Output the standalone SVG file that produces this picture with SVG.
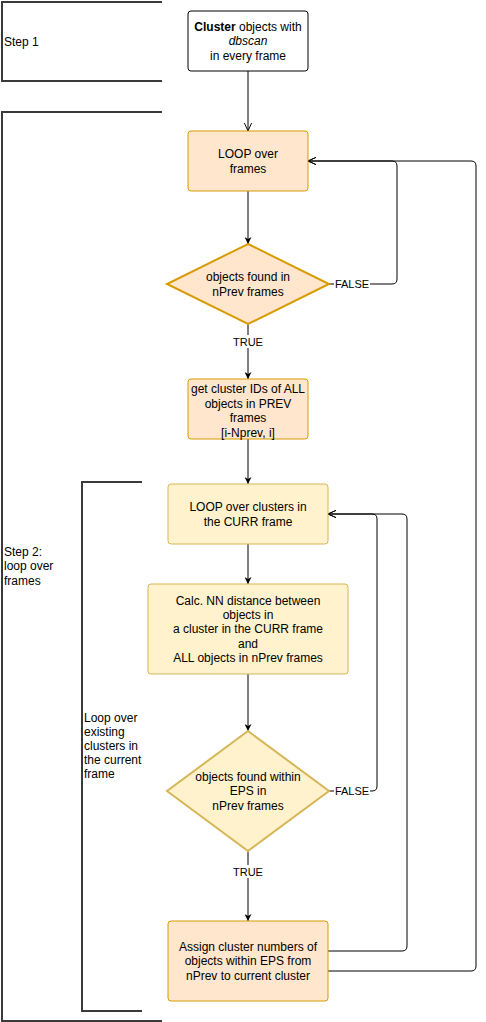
<svg xmlns="http://www.w3.org/2000/svg" width="486" height="1022" viewBox="0 0 486 1022">
<style>
text{font-family:"Liberation Sans",Arial,sans-serif;font-size:12px;fill:#000}
.c{text-anchor:middle}
.lbl{font-size:11px;text-anchor:middle}
.br{fill:none;stroke:#3a3a3a;stroke-width:2}
.or{fill:#ffe6cc;stroke:#d79b00;stroke-width:1}
.ye{fill:#fff2cc;stroke:#d6b656;stroke-width:1}
.ln{fill:none;stroke:#000;stroke-width:1}
</style>
<defs>
<marker id="fa" viewBox="0 0 10 10" refX="10" refY="5" markerWidth="7" markerHeight="7" markerUnits="userSpaceOnUse" orient="auto">
<path d="M0,0 L10,5 L0,10 L3,5 Z" fill="#000"/>
</marker>
<marker id="oa" viewBox="0 0 10 10" refX="10" refY="5" markerWidth="8" markerHeight="8" markerUnits="userSpaceOnUse" orient="auto">
<path d="M0,0.5 L10,5 L0,9.5" fill="none" stroke="#000" stroke-width="1.2"/>
</marker>
</defs>

<g id="brackets">
<path class="br" d="M162,2 H2 V81 H162"/>
<path class="br" d="M162,112 H2 V1021 H162"/>
<path class="br" d="M142,482 H82 V1011 H142"/>
<text x="4" y="46">Step 1</text>
<text x="4" y="556">Step 2:</text>
<text x="4" y="570">loop over</text>
<text x="4" y="585">frames</text>
<text x="84" y="722">Loop over</text>
<text x="84" y="736">existing</text>
<text x="84" y="750">clusters in</text>
<text x="84" y="764">the current</text>
<text x="84" y="778">frame</text>
</g>

<g id="connectors">
<path class="ln" d="M248,71 V131" marker-end="url(#oa)"/>
<path class="ln" d="M248,191 V244" marker-end="url(#fa)"/>
<path class="ln" d="M248,324 V379" marker-end="url(#fa)"/>
<path class="ln" d="M329,284 H392 Q397,284 397,279 V166 Q397,161 392,161 H308" marker-end="url(#oa)"/>
<path class="ln" d="M248,439 V484" marker-end="url(#fa)"/>
<path class="ln" d="M248,544 V584" marker-end="url(#fa)"/>
<path class="ln" d="M248,674 V731" marker-end="url(#fa)"/>
<path class="ln" d="M329,791 H372 Q377,791 377,786 V519 Q377,514 372,514 H328" marker-end="url(#oa)"/>
<path class="ln" d="M248,851 V921" marker-end="url(#fa)"/>
<path class="ln" d="M328,951 H402 Q407,951 407,946 V519 Q407,514 402,514 H328" marker-end="url(#oa)"/>
<path class="ln" d="M328,971 H471 Q476,971 476,966 V166 Q476,161 471,161 H308" marker-end="url(#oa)"/>
<rect x="234" y="335" width="28" height="13" fill="#fff"/>
<text class="lbl" x="248" y="346">TRUE</text>
<rect x="334" y="278" width="36" height="13" fill="#fff"/>
<text class="lbl" x="352" y="288">FALSE</text>
<rect x="334" y="785" width="36" height="13" fill="#fff"/>
<text class="lbl" x="352" y="795">FALSE</text>
<rect x="234" y="865" width="28" height="13" fill="#fff"/>
<text class="lbl" x="248" y="876">TRUE</text>
</g>

<g id="n-cluster">
<rect x="188" y="11" width="120" height="60" rx="3" fill="#fff" stroke="#000"/>
<text class="c" x="248" y="31"><tspan font-weight="bold">Cluster</tspan> objects with</text>
<text class="c" x="248" y="45" font-style="italic">dbscan</text>
<text class="c" x="248" y="60">in every frame</text>
</g>

<g id="n-loop-frames">
<rect class="or" x="188" y="131" width="120" height="60" rx="3"/>
<text class="c" x="248" y="158">LOOP over</text>
<text class="c" x="248" y="173">frames</text>
</g>

<g id="n-found-nprev">
<polygon points="248,244 329,284 248,324 167,284" fill="#ffe6cc" stroke="#d79b00" stroke-width="2"/>
<text class="c" x="248" y="281">objects found in</text>
<text class="c" x="248" y="296">nPrev frames</text>
</g>

<g id="n-get-ids">
<rect class="or" x="188" y="379" width="120" height="60" rx="3"/>
<text class="c" x="248" y="393">get cluster IDs of ALL</text>
<text class="c" x="248" y="408">objects in PREV</text>
<text class="c" x="248" y="422">frames</text>
<text class="c" x="248" y="437">[i-Nprev, i]</text>
</g>

<g id="n-loop-clusters">
<rect class="ye" x="168" y="484" width="160" height="60" rx="3"/>
<text class="c" x="248" y="511">LOOP over clusters in</text>
<text class="c" x="248" y="526">the CURR frame</text>
</g>

<g id="n-calc">
<rect class="ye" x="148" y="584" width="200" height="90" rx="3"/>
<text class="c" x="248" y="605">Calc. NN distance between</text>
<text class="c" x="248" y="619">objects in</text>
<text class="c" x="248" y="633">a cluster in the CURR frame</text>
<text class="c" x="248" y="648">and</text>
<text class="c" x="248" y="662">ALL objects in nPrev frames</text>
</g>

<g id="n-found-eps">
<polygon points="248,731 329,791 248,851 167,791" fill="#fff2cc" stroke="#d6b656" stroke-width="2"/>
<text class="c" x="248" y="781">objects found within</text>
<text class="c" x="248" y="795">EPS in</text>
<text class="c" x="248" y="810">nPrev frames</text>
</g>

<g id="n-assign">
<rect class="or" x="168" y="921" width="160" height="80" rx="3"/>
<text class="c" x="248" y="951">Assign cluster numbers of</text>
<text class="c" x="248" y="965">objects within EPS from</text>
<text class="c" x="248" y="980">nPrev to current cluster</text>
</g>
</svg>
